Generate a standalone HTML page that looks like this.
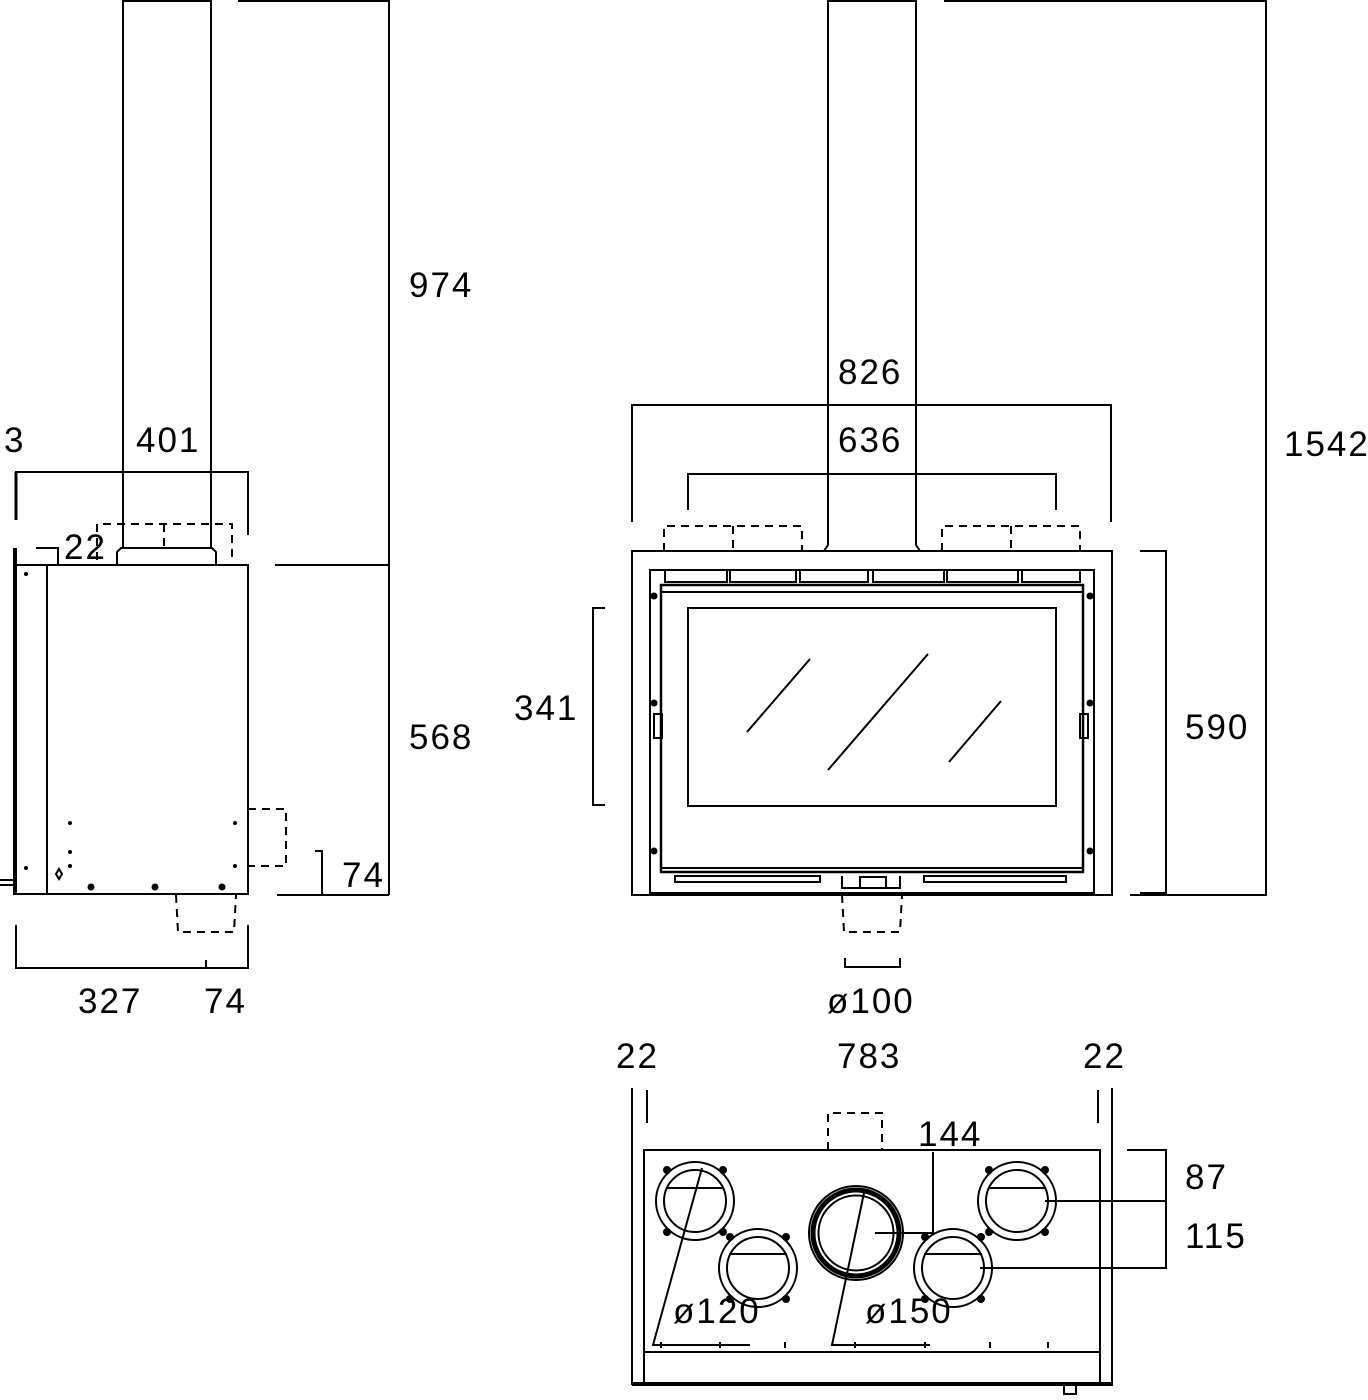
<!DOCTYPE html>
<html><head><meta charset="utf-8"><style>
html,body{margin:0;padding:0;background:#fff;}
svg{display:block}
text{font-family:"Liberation Sans","DejaVu Sans",sans-serif;font-size:35px;fill:#000;letter-spacing:2px}
</style></head><body>
<svg width="1368" height="1400" viewBox="0 0 1368 1400" xmlns="http://www.w3.org/2000/svg">
<g fill="none" stroke="#000" stroke-width="2">
<!-- LEFT VIEW -->
<path d="M123,548 V1 H211 V548"/>
<path d="M238,1 H389 V895"/>
<path d="M275,565 H389"/>
<path d="M277,895 H389"/>
<path d="M315,851 H322 V895"/>
<path d="M16,520 V472 H248 V535" />
<path d="M16,472 V520" stroke-width="3"/>
<path d="M97,560 V524 H232 V560 M164,524 V548" stroke-dasharray="8,6"/>
<path d="M117,565 V552 L121,548 H212 L216,552 V565"/>
<path d="M36,548 H58 V565"/>
<rect x="47" y="565" width="201" height="329"/>
<path d="M16,565 H47 M16,894 H47"/>
<path d="M15,548 V895" stroke-width="4"/>
<path d="M0,880 H15 M0,885 H15"/>
<path d="M248,809 H286 V866 H248" stroke-dasharray="8,6"/>
<path d="M176,895 L178,932 H234 L236,895" stroke-dasharray="8,6"/>
<path d="M16,925 V968 H248 V925 M206,960 V968"/>
<path d="M56,874 l3,-5 l3,5 l-3,5 z"/>
<!-- FRONT VIEW -->
<path d="M824,551 L828,545 V1 H916 V545 L920,551"/>
<path d="M944,1 H1266 V895 H1130"/>
<path d="M1140,551 H1166 V893 H1140"/>
<path d="M632,522 V405 H1111 V522"/>
<path d="M688,510 V474 H1056 V510"/>
<path d="M605,608 H593 V805 H605"/>
<rect x="632" y="551" width="480" height="344"/>
<rect x="650" y="570" width="444" height="323"/>
<rect x="661" y="585" width="422" height="287" stroke-width="2.5"/>
<path d="M661,592 H1083 M661,868 H1083"/>
<rect x="688" y="608" width="368" height="198"/>
<path d="M747,732 L810,659 M828,770 L928,654 M949,762 L1001,701"/>
<path d="M665,570 V582 H727 V570 M730,570 V582 H796 V570 M800,570 V582 H868 V570 M873,570 V582 H944 V570 M947,570 V582 H1018 V570 M1022,570 V582 H1080 V570"/>
<path d="M654,714 h8 v24 h-8 z M1080,714 h8 v24 h-8 z"/>
<path d="M675,876 H820 V882 H675 Z M924,876 H1066 V882 H924 Z"/>
<path d="M842,876 V888 H900 V876 M860,877 H886 V888 H860 Z"/>
<path d="M664,551 V526 H802 V551 M733,526 V551 M942,551 V526 H1080 V551 M1011,526 V551" stroke-dasharray="8,6"/>
<path d="M842,895 L844,932 H900 L902,895" stroke-dasharray="8,6"/>
<path d="M845,958 V967 H900 V958"/>
<!-- BOTTOM VIEW -->
<path d="M632,1088 V1385 M1112,1088 V1385"/>
<path d="M647,1090 V1123 M1098,1090 V1123"/>
<rect x="644" y="1150" width="456" height="202"/>
<path d="M644,1352 V1383 M1100,1352 V1383"/>
<path d="M632,1384 H1113" stroke-width="4"/>
<path d="M828,1150 V1113 H882 V1150" stroke-dasharray="8,6"/>
<path d="M1064,1384 v10 h12 v-10"/>
<g>
<circle cx="695" cy="1201" r="39"/><circle cx="695" cy="1201" r="31"/><path d="M666,1188 H724"/>
<circle cx="758" cy="1268" r="39"/><circle cx="758" cy="1268" r="31"/><path d="M729,1254 H787"/>
<circle cx="953" cy="1268" r="39"/><circle cx="953" cy="1268" r="31"/><path d="M924,1254 H982"/>
<circle cx="1017" cy="1201" r="39"/><circle cx="1017" cy="1201" r="31"/><path d="M988,1188 H1046"/>
<circle cx="856" cy="1233" r="47"/><circle cx="856" cy="1233" r="43" stroke-width="5"/><circle cx="856" cy="1233" r="37.5"/>
</g>
<path d="M702,1168 L653,1345 H750"/>
<path d="M864,1193 L832,1345 H930"/>
<path d="M875,1233 H933 V1152"/>
<path d="M1127,1150 H1166 V1268 H980 M1045,1201 H1166"/>
<path d="M661,1342 v6 M720,1342 v6 M785,1342 v6 M855,1342 v6 M925,1342 v6 M990,1342 v6 M1048,1342 v6"/>
</g>
<g fill="#000">
<circle cx="26" cy="574" r="2"/><circle cx="26" cy="868" r="2"/>
<circle cx="70" cy="823" r="2"/><circle cx="70" cy="852" r="2"/><circle cx="70" cy="866" r="2"/>
<circle cx="235" cy="823" r="2"/><circle cx="235" cy="866" r="2"/>
<circle cx="91" cy="887" r="3.5"/><circle cx="155" cy="887" r="3.5"/><circle cx="222" cy="887" r="3.5"/>
<circle cx="654" cy="596" r="3.5"/><circle cx="654" cy="703" r="3.5"/><circle cx="654" cy="851" r="3.5"/>
<circle cx="1090" cy="596" r="3.5"/><circle cx="1090" cy="703" r="3.5"/><circle cx="1090" cy="851" r="3.5"/>
<circle cx="667" cy="1170" r="4"/><circle cx="723" cy="1170" r="4"/><circle cx="667" cy="1232" r="4"/><circle cx="723" cy="1232" r="4"/>
<circle cx="730" cy="1237" r="4"/><circle cx="786" cy="1237" r="4"/><circle cx="730" cy="1299" r="4"/><circle cx="786" cy="1299" r="4"/>
<circle cx="925" cy="1237" r="4"/><circle cx="981" cy="1237" r="4"/><circle cx="925" cy="1299" r="4"/><circle cx="981" cy="1299" r="4"/>
<circle cx="989" cy="1170" r="4"/><circle cx="1045" cy="1170" r="4"/><circle cx="989" cy="1232" r="4"/><circle cx="1045" cy="1232" r="4"/>
</g>
<text x="409" y="297">974</text>
<text x="409" y="749">568</text>
<text x="342" y="887">74</text>
<text x="4" y="452">3</text>
<text x="136" y="452">401</text>
<text x="64" y="559">22</text>
<text x="78" y="1013">327</text>
<text x="204" y="1013">74</text>
<text x="838" y="384">826</text>
<text x="838" y="452">636</text>
<text x="1284" y="456">1542</text>
<text x="1185" y="739">590</text>
<text x="514" y="720">341</text>
<text x="827" y="1013">ø100</text>
<text x="616" y="1068">22</text>
<text x="837" y="1068">783</text>
<text x="1083" y="1068">22</text>
<text x="918" y="1146">144</text>
<text x="1185" y="1189">87</text>
<text x="1185" y="1248">115</text>
<text x="673" y="1323">ø120</text>
<text x="865" y="1323">ø150</text>
</svg>
</body></html>
